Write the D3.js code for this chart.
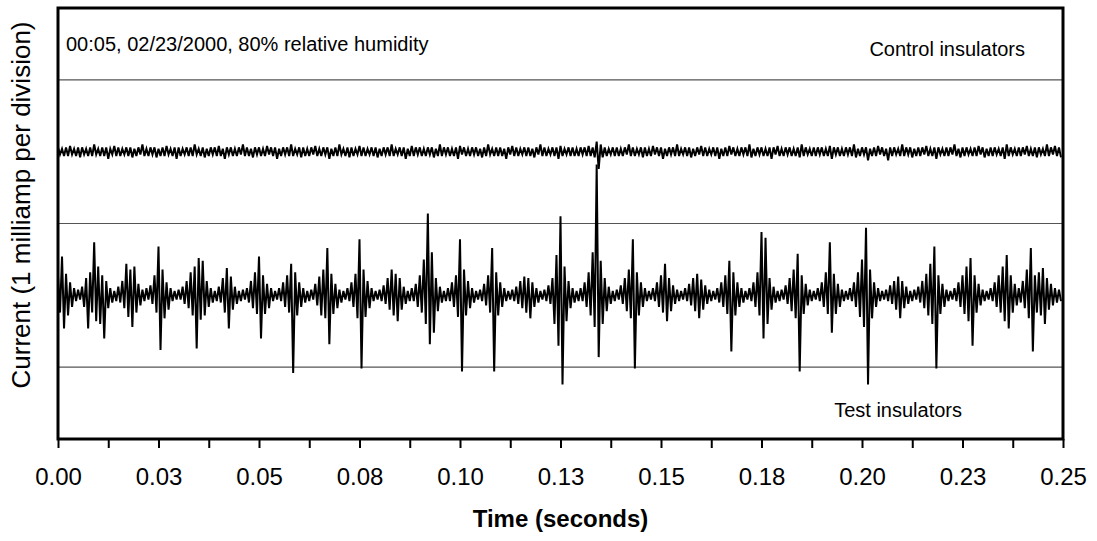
<!DOCTYPE html>
<html>
<head>
<meta charset="utf-8">
<script src="https://cdn.jsdelivr.net/npm/d3@7"></script>
<style>
  body { margin: 0; background: #fff; }
  text { font-family: "Liberation Sans", Arial, sans-serif; fill: #000; }
</style>
</head>
<body>
<div id="chart"></div>
<script>
// time axis (seconds)
const tickValues = [0, 0.025, 0.05, 0.075, 0.1, 0.125, 0.15, 0.175, 0.2, 0.225, 0.25];
const tickLabels = ['0.00', '0.03', '0.05', '0.08', '0.10', '0.13', '0.15', '0.18', '0.20', '0.23', '0.25'];

// trace offsets on the chart (milliamps, 1 division = 1 mA)
const controlOffset = 0.5;
const testOffset = -0.5;

// test insulators: peak up / peak down per 1 ms bin, in 0.01 mA
const testHi = [
  14, 27, 15, 9, 5, 4, 6, 12, 16, 37,
  20, 14, 10, 5, 3, 6, 10, 22, 18, 20,
  8, 4, 5, 7, 14, 34, 18, 9, 5, 3,
  4, 6, 10, 16, 20, 26, 24, 10, 5, 3,
  6, 12, 19, 13, 6, 3, 4, 5, 10, 16,
  27, 14, 8, 5, 3, 5, 9, 14, 22, 16,
  9, 5, 3, 4, 8, 13, 18, 33, 15, 8,
  4, 3, 5, 9, 15, 39, 18, 10, 5, 3,
  4, 7, 12, 18, 15, 12, 6, 3, 5, 8,
  14, 25, 57, 30, 12, 6, 3, 5, 9, 14,
  39, 18, 10, 5, 3, 4, 8, 14, 33, 16,
  9, 5, 3, 4, 6, 10, 13, 12, 9, 5,
  3, 4, 7, 12, 28, 55, 20, 10, 5, 3,
  5, 9, 16, 30, 91, 24, 12, 6, 3, 4,
  7, 12, 18, 39, 16, 9, 5, 3, 5, 9,
  14, 22, 12, 7, 4, 3, 5, 8, 12, 15,
  11, 7, 4, 3, 5, 9, 14, 24, 16, 9,
  5, 3, 5, 9, 16, 44, 40, 12, 6, 3,
  4, 7, 12, 18, 29, 14, 8, 4, 3, 5,
  9, 16, 37, 15, 8, 4, 3, 5, 9, 16,
  25, 47, 18, 9, 5, 3, 4, 7, 10, 13,
  10, 6, 3, 4, 6, 10, 15, 22, 34, 14,
  8, 4, 3, 5, 9, 14, 20, 26, 14, 8,
  4, 3, 5, 9, 14, 20, 28, 14, 8, 5,
  10, 18, 33, 14, 16, 19, 12, 8, 5, 4
];
const testLo = [
  12, 23, 14, 8, 4, 3, 8, 23, 12, 18,
  20, 30, 9, 5, 4, 5, 9, 15, 22, 12,
  7, 4, 3, 6, 12, 38, 16, 10, 4, 3,
  3, 6, 9, 14, 37, 17, 14, 8, 5, 4,
  5, 12, 23, 10, 6, 4, 3, 5, 9, 13,
  30, 13, 9, 4, 3, 4, 8, 12, 54, 14,
  8, 5, 4, 3, 7, 14, 16, 34, 13, 9,
  5, 3, 4, 8, 16, 51, 15, 9, 4, 3,
  4, 6, 10, 14, 18, 10, 6, 4, 4, 8,
  12, 20, 34, 26, 11, 5, 4, 4, 8, 15,
  53, 14, 9, 5, 3, 4, 7, 12, 53, 14,
  8, 4, 3, 4, 6, 9, 12, 16, 8, 5,
  3, 4, 6, 20, 35, 62, 18, 9, 5, 4,
  4, 8, 14, 22, 43, 20, 11, 6, 4, 3,
  6, 11, 16, 51, 14, 8, 4, 3, 4, 8,
  12, 18, 11, 6, 4, 3, 4, 7, 11, 16,
  10, 6, 4, 3, 5, 8, 13, 39, 14, 8,
  5, 3, 4, 8, 14, 30, 20, 10, 5, 4,
  3, 6, 11, 16, 53, 13, 7, 4, 3, 4,
  8, 13, 26, 13, 8, 4, 3, 4, 8, 15,
  22, 62, 16, 8, 4, 3, 4, 6, 10, 16,
  9, 6, 4, 3, 5, 9, 14, 20, 51, 13,
  8, 4, 3, 4, 8, 13, 18, 35, 12, 7,
  4, 3, 4, 8, 12, 18, 23, 12, 7, 5,
  9, 16, 39, 12, 14, 20, 10, 7, 5, 4
];

// control insulators: peak up / peak down per 1 ms bin, in 0.01 mA
const controlHi = [
  3, 2, 3, 4, 2, 3, 3, 2, 3, 5,
  2, 3, 3, 2, 4, 3, 2, 3, 3, 2,
  3, 5, 2, 3, 3, 2, 3, 4, 2, 3,
  3, 2, 3, 3, 5, 2, 3, 2, 3, 3,
  4, 2, 3, 3, 2, 3, 5, 3, 2, 3,
  3, 2, 4, 3, 3, 2, 3, 3, 5, 2,
  3, 3, 2, 3, 4, 2, 3, 3, 2, 3,
  5, 2, 3, 3, 2, 4, 3, 2, 3, 3,
  2, 3, 3, 5, 2, 3, 3, 2, 4, 3,
  3, 2, 3, 3, 2, 5, 3, 3, 2, 3,
  4, 3, 2, 3, 3, 2, 3, 5, 2, 3,
  3, 2, 3, 4, 3, 2, 3, 3, 2, 3,
  5, 3, 2, 3, 3, 4, 2, 3, 3, 2,
  3, 3, 4, 3, 7, 5, 3, 2, 3, 3,
  2, 3, 5, 3, 2, 3, 3, 2, 4, 3,
  3, 2, 3, 3, 5, 2, 3, 3, 2, 3,
  4, 3, 2, 3, 3, 2, 3, 4, 3, 2,
  3, 3, 5, 2, 3, 3, 2, 3, 3, 4,
  2, 3, 3, 2, 3, 5, 3, 2, 3, 3,
  3, 2, 4, 3, 3, 2, 3, 3, 5, 2,
  3, 3, 2, 3, 4, 3, 2, 3, 3, 2,
  5, 3, 3, 2, 3, 3, 4, 2, 3, 3,
  2, 3, 3, 5, 2, 3, 3, 2, 3, 4,
  3, 2, 3, 3, 2, 3, 5, 3, 2, 3,
  3, 4, 2, 3, 3, 2, 5, 3, 4, 3
];
const controlLo = [
  2, 3, 3, 2, 3, 4, 2, 3, 3, 2,
  3, 3, 5, 2, 3, 3, 2, 3, 4, 3,
  2, 3, 3, 2, 4, 3, 3, 2, 3, 5,
  3, 2, 3, 3, 2, 3, 4, 3, 2, 3,
  3, 5, 2, 3, 3, 2, 3, 3, 4, 2,
  3, 3, 2, 3, 5, 3, 2, 3, 3, 2,
  4, 3, 3, 2, 3, 3, 2, 5, 3, 3,
  2, 3, 4, 3, 2, 3, 3, 2, 3, 4,
  3, 2, 3, 3, 2, 3, 5, 3, 3, 2,
  3, 3, 2, 4, 3, 3, 2, 3, 3, 5,
  2, 3, 3, 2, 3, 4, 3, 2, 3, 3,
  3, 5, 2, 3, 3, 2, 3, 3, 4, 2,
  3, 3, 2, 3, 5, 3, 2, 3, 3, 3,
  2, 3, 3, 4, 12, 4, 3, 2, 3, 3,
  3, 2, 3, 3, 2, 4, 3, 3, 2, 3,
  5, 3, 2, 3, 3, 2, 3, 4, 3, 2,
  3, 3, 2, 3, 5, 3, 3, 2, 3, 3,
  2, 3, 4, 3, 2, 3, 3, 5, 2, 3,
  3, 2, 3, 3, 4, 3, 2, 3, 3, 2,
  3, 3, 5, 2, 3, 3, 2, 3, 4, 3,
  2, 6, 3, 3, 2, 3, 6, 3, 2, 3,
  3, 2, 4, 3, 3, 2, 3, 3, 5, 2,
  3, 3, 2, 3, 4, 3, 2, 3, 3, 2,
  4, 3, 3, 2, 3, 5, 3, 2, 3, 3,
  2, 3, 3, 4, 2, 3, 3, 2, 3, 4
];

const width = 1097;
const height = 541;
const margin = { left: 58, right: 34, top: 8, bottom: 102 };

const svg = d3.select('#chart').append('svg')
  .attr('width', width)
  .attr('height', height);

const x = d3.scaleLinear()
  .domain([0, 0.25])
  .range([margin.left, width - margin.right]);

const y = d3.scaleLinear()
  .domain([-1.5, 1.5])
  .range([height - margin.bottom, margin.top]);

// horizontal division lines
svg.selectAll('.grid')
  .data([1, 0, -1])
  .enter()
  .append('line')
  .attr('x1', x(0))
  .attr('x2', x(0.25))
  .attr('y1', d => y(d))
  .attr('y2', d => y(d))
  .attr('stroke', '#555')
  .attr('stroke-width', 1.2);

// zigzag through peak-up / peak-down values of each 1 ms bin
function tracePoints(hi, lo, offset) {
  const pts = [];
  hi.forEach((h, i) => {
    pts.push([i * 0.001, offset + h / 100]);
    pts.push([(i + 0.5) * 0.001, offset - lo[i] / 100]);
  });
  return pts;
}

const line = d3.line()
  .x(d => x(d[0]))
  .y(d => y(d[1]));

svg.append('path')
  .attr('d', line(tracePoints(controlHi, controlLo, controlOffset)))
  .attr('fill', 'none')
  .attr('stroke', '#000')
  .attr('stroke-width', 2);

svg.append('path')
  .attr('d', line(tracePoints(testHi, testLo, testOffset)))
  .attr('fill', 'none')
  .attr('stroke', '#000')
  .attr('stroke-width', 2);

// plot frame
svg.append('rect')
  .attr('x', x(0))
  .attr('y', y(1.5))
  .attr('width', x(0.25) - x(0))
  .attr('height', y(-1.5) - y(1.5))
  .attr('fill', 'none')
  .attr('stroke', '#000')
  .attr('stroke-width', 3);

// x axis
const xAxis = d3.axisBottom(x)
  .tickValues(d3.range(0, 21).map(i => i * 0.0125))
  .tickSize(9)
  .tickFormat(d => {
    const k = tickValues.findIndex(v => Math.abs(v - d) < 1e-9);
    return k >= 0 ? tickLabels[k] : '';
  });

const gx = svg.append('g')
  .attr('transform', `translate(0,${y(-1.5)})`)
  .call(xAxis);
gx.select('.domain').remove();
gx.selectAll('.tick line').attr('stroke', '#000').attr('stroke-width', 2);
gx.selectAll('.tick text')
  .attr('y', 29)
  .style('font-size', '24px')
  .style('font-family', '"Liberation Sans", Arial, sans-serif');

// axis titles
svg.append('text')
  .attr('x', (x(0) + x(0.25)) / 2)
  .attr('y', 527)
  .attr('text-anchor', 'middle')
  .style('font-size', '24px')
  .style('font-weight', 'bold')
  .text('Time (seconds)');

svg.append('text')
  .attr('transform', 'translate(30,205) rotate(-90)')
  .attr('text-anchor', 'middle')
  .style('font-size', '26px')
  .text('Current (1 milliamp per division)');

// annotations
svg.append('text')
  .attr('x', 66)
  .attr('y', 51)
  .style('font-size', '20px')
  .text('00:05, 02/23/2000, 80% relative humidity');

svg.append('text')
  .attr('x', 1025)
  .attr('y', 56)
  .attr('text-anchor', 'end')
  .style('font-size', '20px')
  .text('Control insulators');

svg.append('text')
  .attr('x', 962)
  .attr('y', 417)
  .attr('text-anchor', 'end')
  .style('font-size', '20px')
  .text('Test insulators');
</script>
</body>
</html>
